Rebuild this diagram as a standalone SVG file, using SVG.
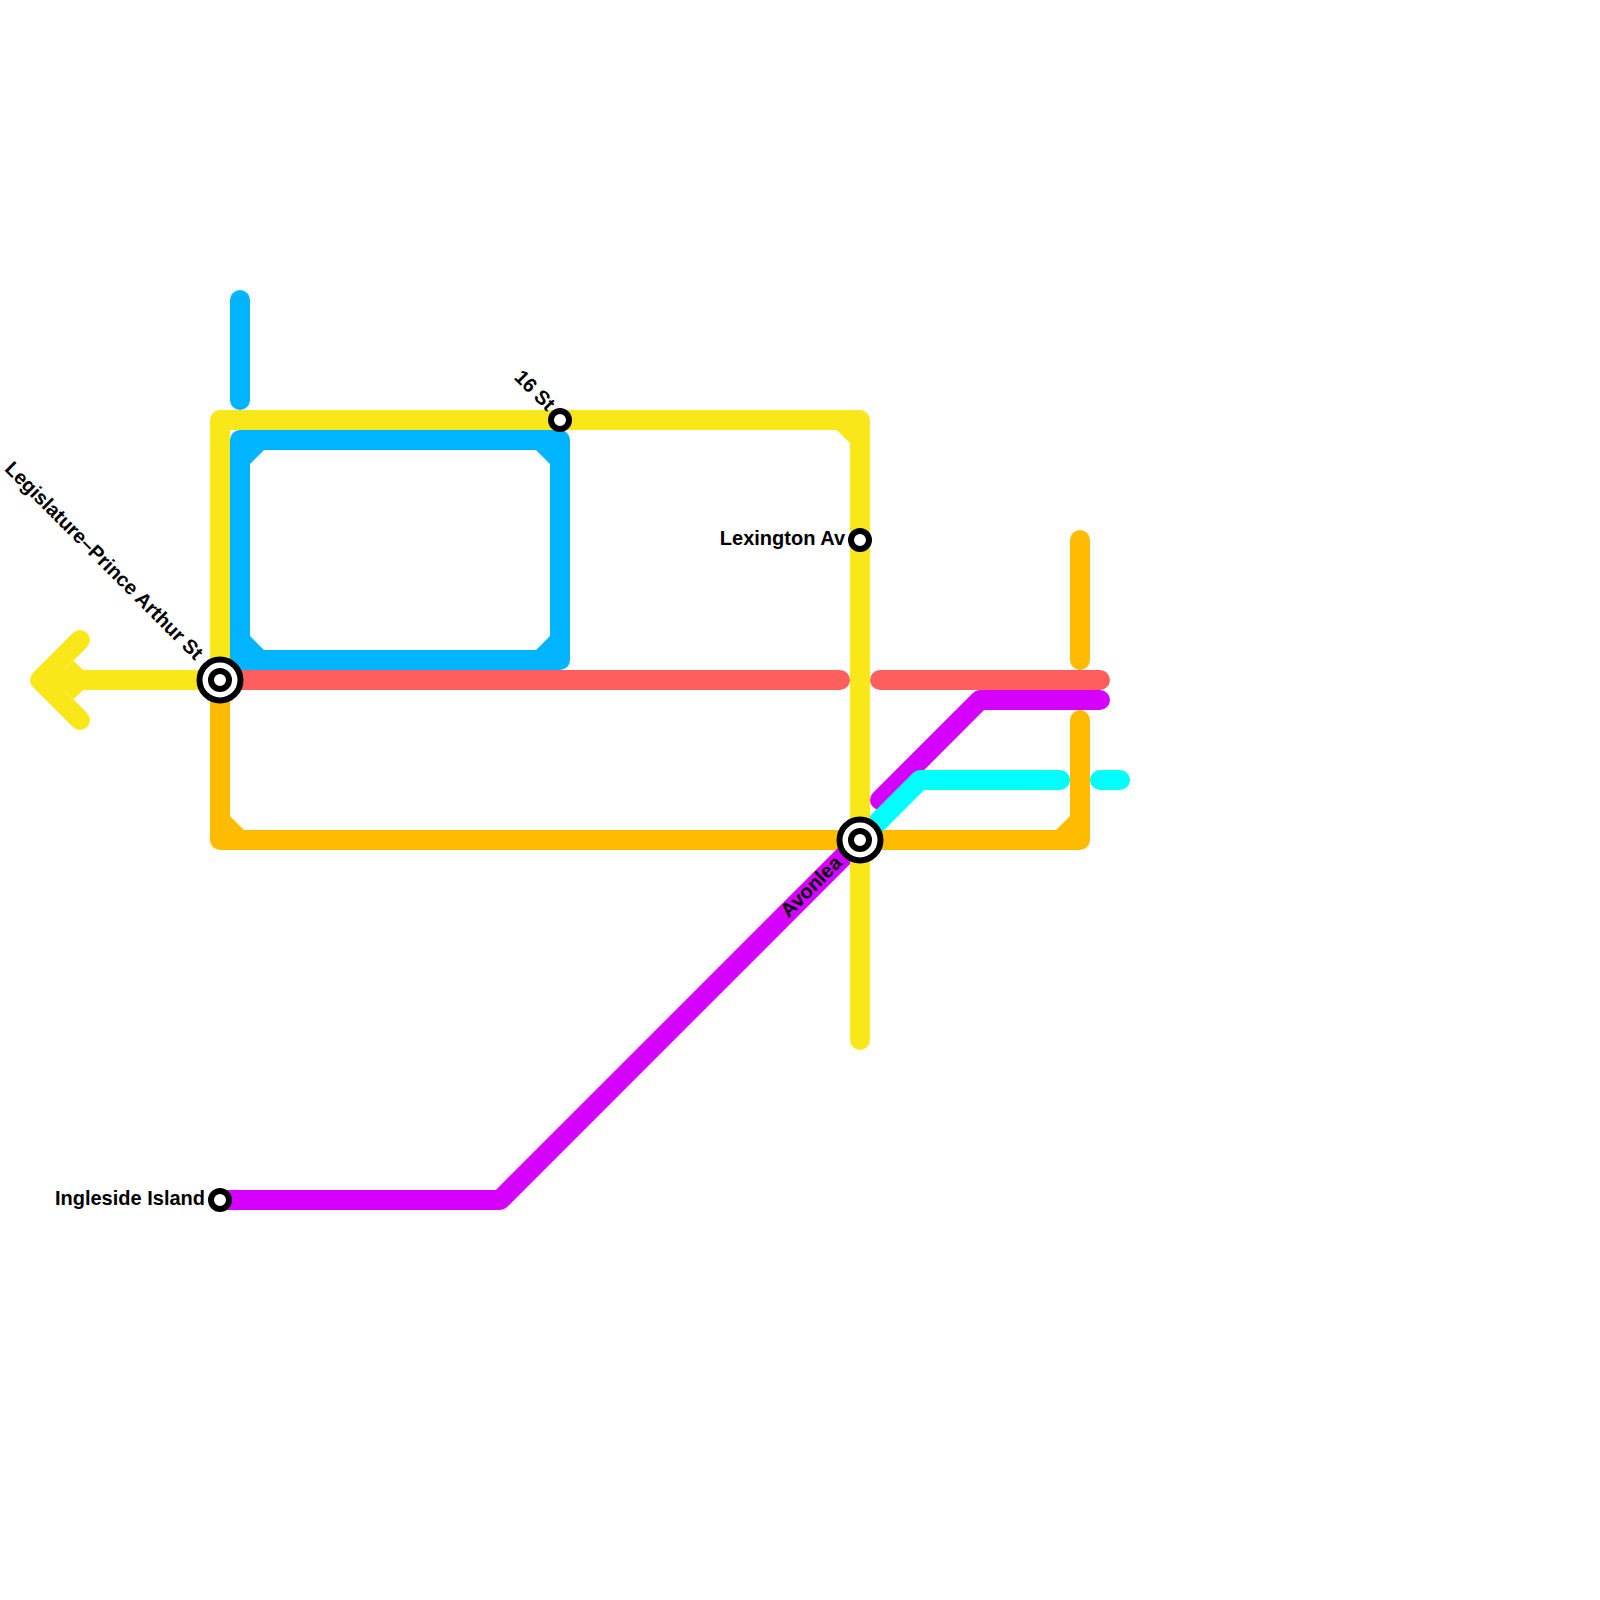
<svg xmlns="http://www.w3.org/2000/svg" width="1600" height="1600" viewBox="0 0 1600 1600">
<style>
.l{fill:none;stroke-width:20;stroke-linecap:round;stroke-linejoin:round}
.y{stroke:#f9e71a}.yf{fill:#f9e71a}
.b{stroke:#00b4ff}.bf{fill:#00b4ff}
.r{stroke:#ff5e5e}
.o{stroke:#ffbb00}.of{fill:#ffbb00}
.m{stroke:#d500ff}
.c{stroke:#00ffff}
.t{font-family:"Liberation Sans",Arial,sans-serif;font-weight:700;font-size:20px;fill:#000}
.ring{fill:#fff;stroke:#000;stroke-width:6}
</style>
<g id="connectors">
<path class="l o" d="M220 680V840H1080V720"/><path class="of" d="M230 816L244 830H230ZM1056 830L1070 816V830Z"/>
<path class="l o" d="M1080 540V660"/>
<path class="l m" d="M220 1200H500L860 840"/>
<path class="l m" d="M880 800L980 700H1100"/>
<path class="l c" d="M860 840L920 780H1060"/>
<path class="l c" d="M1100 780H1120"/>
<path class="l y" d="M220 680V420H860V1040"/><path class="yf" d="M836.7 430H850V443.3Z"/>
<path class="l y" d="M220 680H40M80 640L40 680L80 720"/><path class="yf" d="M64 670L73.3 660.7L83.3 670ZM64 690L73.3 699.3L83.3 690Z"/>
<path class="l b" d="M240 300V400"/>
<path class="l b" d="M240 660V440H560V660Z"/><path class="bf" d="M250 450H264L250 464ZM536 450H550V464ZM250 636L264 650H250ZM536 650L550 636V650Z"/>
<path class="l r" d="M220 680H840"/>
<path class="l r" d="M880 680H1100"/>
</g>
<g id="station-legislature"><circle class="ring" cx="220" cy="680" r="20.5"/><circle class="ring" cx="220" cy="680" r="9"/><text class="t" transform="translate(195 661) rotate(45)" text-anchor="end">Legislature–Prince Arthur St</text></g>
<g id="station-16st"><circle class="ring" cx="560" cy="420" r="9"/><text class="t" transform="translate(547 412) rotate(45)" text-anchor="end">16 St</text></g>
<g id="station-lexington"><circle class="ring" cx="860" cy="540" r="9"/><text class="t" x="845" y="545" text-anchor="end">Lexington Av</text></g>
<g id="station-avonlea"><circle class="ring" cx="860" cy="840" r="20.5"/><circle class="ring" cx="860" cy="840" r="9"/><text class="t" transform="translate(843 864) rotate(-45)" text-anchor="end">Avonlea</text></g>
<g id="station-ingleside"><circle class="ring" cx="220" cy="1200" r="9"/><text class="t" x="205" y="1205" text-anchor="end">Ingleside Island</text></g>
</svg>
